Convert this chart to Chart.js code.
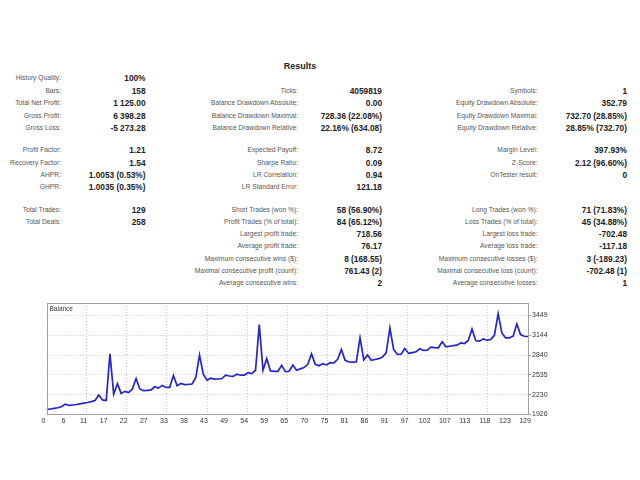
<!DOCTYPE html>
<html>
<head>
<meta charset="utf-8">
<title>Results</title>
<script src="https://cdn.jsdelivr.net/npm/chart.js@4.4.1/dist/chart.umd.min.js"></script>
<style>
  body { margin: 0; background: #fff; font-family: "Liberation Sans", Arial, sans-serif; }
  #page { position: relative; width: 640px; height: 480px; overflow: hidden; }
  h1 { position: absolute; left: 0; width: 600px; top: 60px; margin: 0; text-align: center;
       font-size: 9px; font-weight: bold; color: #222; line-height: 12px; }
  .c { position: absolute; white-space: nowrap; line-height: 12px; text-align: right; }
  .l { font-size: 6.7px; color: #555; }
  .v { font-size: 8.3px; font-weight: bold; color: #222; }
  #chart { position: absolute; left: 0; top: 290px; }
</style>
</head>
<body>
<div id="page">
  <h1>Results</h1>
  <div id="rows"></div>
  <canvas id="chart" width="640" height="150"></canvas>
</div>
<script>
// balance after each trade (trade 0 = deposit)
const balance = [
  2000, 2010, 2020, 2030, 2045, 2085, 2065, 2072, 2080, 2090,
  2100, 2110, 2125, 2140, 2225, 2150, 2140, 2860, 2240, 2400,
  2250, 2282, 2262, 2318, 2480, 2318, 2292, 2296, 2305, 2352,
  2332, 2373, 2342, 2342, 2525, 2368, 2403, 2385, 2388, 2395,
  2494, 2840, 2545, 2454, 2484, 2469, 2472, 2479, 2530, 2518,
  2512, 2545, 2530, 2532, 2570, 2556, 2606, 3307, 2606, 2784,
  2596, 2588, 2590, 2682, 2586, 2590, 2687, 2606, 2628, 2647,
  2698, 2860, 2698, 2675, 2708, 2688, 2723, 2718, 2774, 2926,
  2759, 2733, 2731, 2735, 3104, 2764, 2840, 2759, 2772, 2784,
  2809, 2875, 3256, 2926, 2850, 2852, 2941, 2865, 2878, 2891,
  2936, 2911, 2916, 2962, 2955, 2951, 3043, 2967, 2975, 2984,
  2992, 3028, 3017, 3063, 3241, 3063, 3053, 3089, 3068, 3078,
  3144, 3474, 3180, 3104, 3104, 3129, 3317, 3155, 3129, 3125
];
const trades = balance.map((_, i) => i);
const xTickLabels = [0, 6, 11, 17, 22, 27, 33, 38, 43, 49, 54, 59, 65, 70, 75, 81, 86, 91, 97, 102, 107, 113, 118, 123, 129];
const yTickValues = [1926, 2230, 2535, 2840, 3144, 3449];

// report table: [label, value] for the three columns
const col1 = [
  ["History Quality:", "100%"], ["Bars:", "158"], ["Total Net Profit:", "1 125.00"],
  ["Gross Profit:", "6 398.28"], ["Gross Loss:", "-5 273.28"],
  ["Profit Factor:", "1.21"], ["Recovery Factor:", "1.54"], ["AHPR:", "1.0053 (0.53%)"], ["GHPR:", "1.0035 (0.35%)"],
  ["Total Trades:", "129"], ["Total Deals:", "258"]
];
const col2 = [
  null, ["Ticks:", "4059819"], ["Balance Drawdown Absolute:", "0.00"],
  ["Balance Drawdown Maximal:", "728.36 (22.08%)"], ["Balance Drawdown Relative:", "22.16% (634.08)"],
  ["Expected Payoff:", "8.72"], ["Sharpe Ratio:", "0.09"], ["LR Correlation:", "0.94"], ["LR Standard Error:", "121.18"],
  ["Short Trades (won %):", "58 (56.90%)"], ["Profit Trades (% of total):", "84 (65.12%)"],
  ["Largest profit trade:", "718.56"], ["Average profit trade:", "76.17"],
  ["Maximum consecutive wins ($):", "8 (168.55)"], ["Maximal consecutive profit (count):", "761.43 (2)"],
  ["Average consecutive wins:", "2"]
];
const col3 = [
  null, ["Symbols:", "1"], ["Equity Drawdown Absolute:", "352.79"],
  ["Equity Drawdown Maximal:", "732.70 (28.85%)"], ["Equity Drawdown Relative:", "28.85% (732.70)"],
  ["Margin Level:", "397.93%"], ["Z-Score:", "2.12 (96.60%)"], ["OnTester result:", "0"], null,
  ["Long Trades (won %):", "71 (71.83%)"], ["Loss Trades (% of total):", "45 (34.88%)"],
  ["Largest loss trade:", "-702.48"], ["Average loss trade:", "-117.18"],
  ["Maximum consecutive losses ($):", "3 (-189.23)"], ["Maximal consecutive loss (count):", "-702.48 (1)"],
  ["Average consecutive losses:", "1"]
];

// row centres and right edges of label/value columns
const rowY = [78, 90.5, 103, 115.5, 127.5, 150, 162.5, 174.5, 186.5, 209.5, 221.5, 234, 246, 258.5, 270.5, 283];
const colRight = [61, 145.5, 298, 382, 537.5, 627];

const rows = document.getElementById("rows");
[col1, col2, col3].forEach((col, c) => {
  col.forEach((cell, r) => {
    if (!cell) return;
    cell.forEach((txt, k) => {
      const d = document.createElement("div");
      d.className = "c " + (k === 0 ? "l" : "v");
      d.textContent = txt;
      d.style.right = (640 - colRight[c * 2 + k]) + "px";
      d.style.top = (rowY[r] - 6) + "px";
      rows.appendChild(d);
    });
  });
});

// frame round the plot and the "Balance" caption
const frame = {
  id: "frame",
  afterDraw(chart) {
    const { ctx, chartArea: a } = chart;
    ctx.save();
    ctx.strokeStyle = "#a0a0a0";
    ctx.lineWidth = 1;
    ctx.strokeRect(Math.round(a.left) + 0.5, Math.round(a.top) + 0.5, Math.round(a.width) - 1, Math.round(a.height) - 1);
    ctx.fillStyle = "#333";
    ctx.font = "6.5px 'Liberation Sans', Arial, sans-serif";
    ctx.textBaseline = "top";
    ctx.fillText("Balance", a.left + 3, a.top + 3);
    ctx.restore();
  }
};

new Chart(document.getElementById("chart"), {
  type: "line",
  data: {
    labels: trades,
    datasets: [{
      label: "Balance",
      data: balance,
      borderColor: "#2424c8",
      borderWidth: 1.7,
      pointRadius: 0,
      tension: 0,
      fill: false
    }]
  },
  options: {
    responsive: false,
    animation: false,
    layout: { padding: { left: 46.5, top: 13, right: 0, bottom: 0 } },
    plugins: { legend: { display: false }, tooltip: { enabled: false } },
    scales: {
      x: {
        type: "linear",
        min: 0,
        max: trades.length - 1,
        afterBuildTicks: s => { s.ticks = xTickLabels.map((t, k) => ({ value: k * (trades.length - 1) / 24 })); },
        afterFit: s => { s.height = 25.5; },
        ticks: {
          autoSkip: false, maxRotation: 0, padding: 2, labelOffset: -3,
          color: "#333", font: { size: 7, family: "'Liberation Sans', Arial, sans-serif" },
          callback: (v, i) => xTickLabels[i]
        },
        grid: {
          drawTicks: false,
          color: c => (c.index % 2 === 0 && c.index > 0 && c.index < 24) ? "#c8c8c8" : "transparent",
          borderDash: [1, 2]
        },
        border: { display: false, dash: [1, 2] }
      },
      y: {
        position: "right",
        min: 1926,
        max: 3640,
        afterBuildTicks: s => { s.ticks = yTickValues.map(v => ({ value: v })); },
        afterFit: s => { s.width = 640 - 528; },
        ticks: {
          padding: 1, color: "#333",
          font: { size: 7, family: "'Liberation Sans', Arial, sans-serif" },
          callback: (v, i) => String(yTickValues[i])
        },
        grid: {
          tickLength: 3,
          tickColor: "#a0a0a0",
          color: c => c.index > 0 ? "#c8c8c8" : "transparent",
          borderDash: [1, 2]
        },
        border: { display: false, dash: [1, 2] }
      }
    }
  },
  plugins: [frame]
});
</script>
</body>
</html>
